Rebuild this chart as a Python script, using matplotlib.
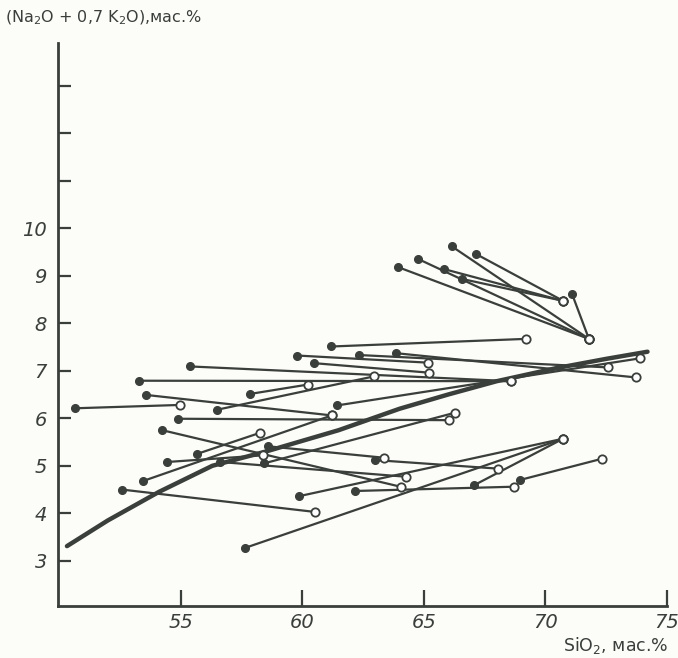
import matplotlib
matplotlib.use("Agg")
import matplotlib.pyplot as plt

# segments: filled start point -> open end point
start_x = [66.14, 67.13, 64.77, 63.94, 65.82, 66.58, 71.10,
           61.20, 62.35, 63.84, 59.79, 60.47, 55.40, 53.27,
           57.83, 56.50, 61.43, 50.64, 53.59, 54.88, 53.45,
           58.42, 54.23, 54.44, 55.67, 56.63, 52.58, 58.60,
           63.01, 59.86, 57.63, 67.06, 62.16, 68.94]
start_y = [9.62, 9.46, 9.35, 9.18, 9.14, 8.93, 8.61,
           7.51, 7.33, 7.37, 7.32, 7.16, 7.09, 6.79,
           6.51, 6.18, 6.27, 6.21, 6.49, 5.99, 4.68,
           5.05, 5.75, 5.08, 5.25, 5.08, 4.50, 5.41,
           5.12, 4.36, 3.27, 4.59, 4.47, 4.70]
end_x = [71.79, 70.73, 71.79, 71.79, 70.73, 70.73, 71.79,
         69.19, 72.58, 73.71, 65.18, 65.20, 68.60, 68.60,
         60.24, 62.94, 73.88, 54.95, 61.21, 66.03, 61.21,
         66.30, 64.04, 58.37, 58.24, 64.27, 60.51, 63.35,
         68.06, 70.73, 70.73, 70.73, 68.70, 72.34]
end_y = [7.67, 8.47, 7.67, 7.67, 8.47, 8.47, 7.67,
         7.67, 7.07, 6.86, 7.17, 6.96, 6.78, 6.78,
         6.71, 6.88, 7.26, 6.28, 6.06, 5.96, 6.06,
         6.12, 4.56, 5.22, 5.69, 4.77, 4.03, 5.17,
         4.94, 5.57, 5.57, 5.57, 4.56, 5.15]

# thick trend curve
trend_x = [50.32, 52.0, 54.1, 56.3, 58.5, 61.5, 64.0, 66.0, 68.0, 70.4, 72.5, 74.2]
trend_y = [3.31, 3.85, 4.45, 5.00, 5.30, 5.75, 6.20, 6.50, 6.78, 7.05, 7.25, 7.40]

x_ticks = [55, 60, 65, 70, 75]
y_ticks = [3, 4, 5, 6, 7, 8, 9, 10, 11, 12, 13]
y_tick_labels = ["3", "4", "5", "6", "7", "8", "9", "10", "", "", ""]

ink = "#3a3f3b"
paper = "#fcfcf8"

fig = plt.figure(figsize=(6.78, 6.58), dpi=100, facecolor=paper)
ax = fig.add_axes([0.0855, 0.079, 0.9, 0.856], facecolor=paper)

ax.plot(trend_x, trend_y, color=ink, lw=3.2, solid_capstyle="round", zorder=2)

for x0, y0, x1, y1 in zip(start_x, start_y, end_x, end_y):
    ax.plot([x0, x1], [y0, y1], color=ink, lw=1.6, zorder=3)

ax.plot(start_x, start_y, "o", ms=5.5, color=ink, zorder=4, ls="none")
ax.plot(end_x, end_y, "o", ms=6, mfc="white", mec=ink, mew=1.3, zorder=5, ls="none")

ax.set_xlim(49.95, 75.05)
ax.set_ylim(2.05, 13.9)
for side in ["top", "right"]:
    ax.spines[side].set_visible(False)
for side in ["left", "bottom"]:
    ax.spines[side].set_linewidth(2)
    ax.spines[side].set_color(ink)
ax.spines["bottom"].set_bounds(49.95, 75)

ax.set_xticks(x_ticks)
ax.set_xticklabels([str(v) for v in x_ticks])
ax.set_yticks(y_ticks)
ax.set_yticklabels(y_tick_labels)
ax.tick_params(axis="x", direction="in", length=11.5, width=1.6, color=ink, pad=5)
ax.tick_params(axis="y", direction="in", length=9.5, width=1.6, color=ink, pad=8)
for lab in ax.get_xticklabels() + ax.get_yticklabels():
    lab.set_fontstyle("italic")
    lab.set_fontsize(14)
    lab.set_color(ink)

fig.text(0.007, 1 - 18 / 658, "(Na$_2$O + 0,7 K$_2$O),мас.%", fontsize=11.5,
         color=ink, ha="left", va="center")
fig.text(668 / 678, 1 - 646 / 658, "SiO$_2$, мас.%", fontsize=12.5,
         color=ink, ha="right", va="center")

fig.savefig("out.png", dpi=100, facecolor=paper)
